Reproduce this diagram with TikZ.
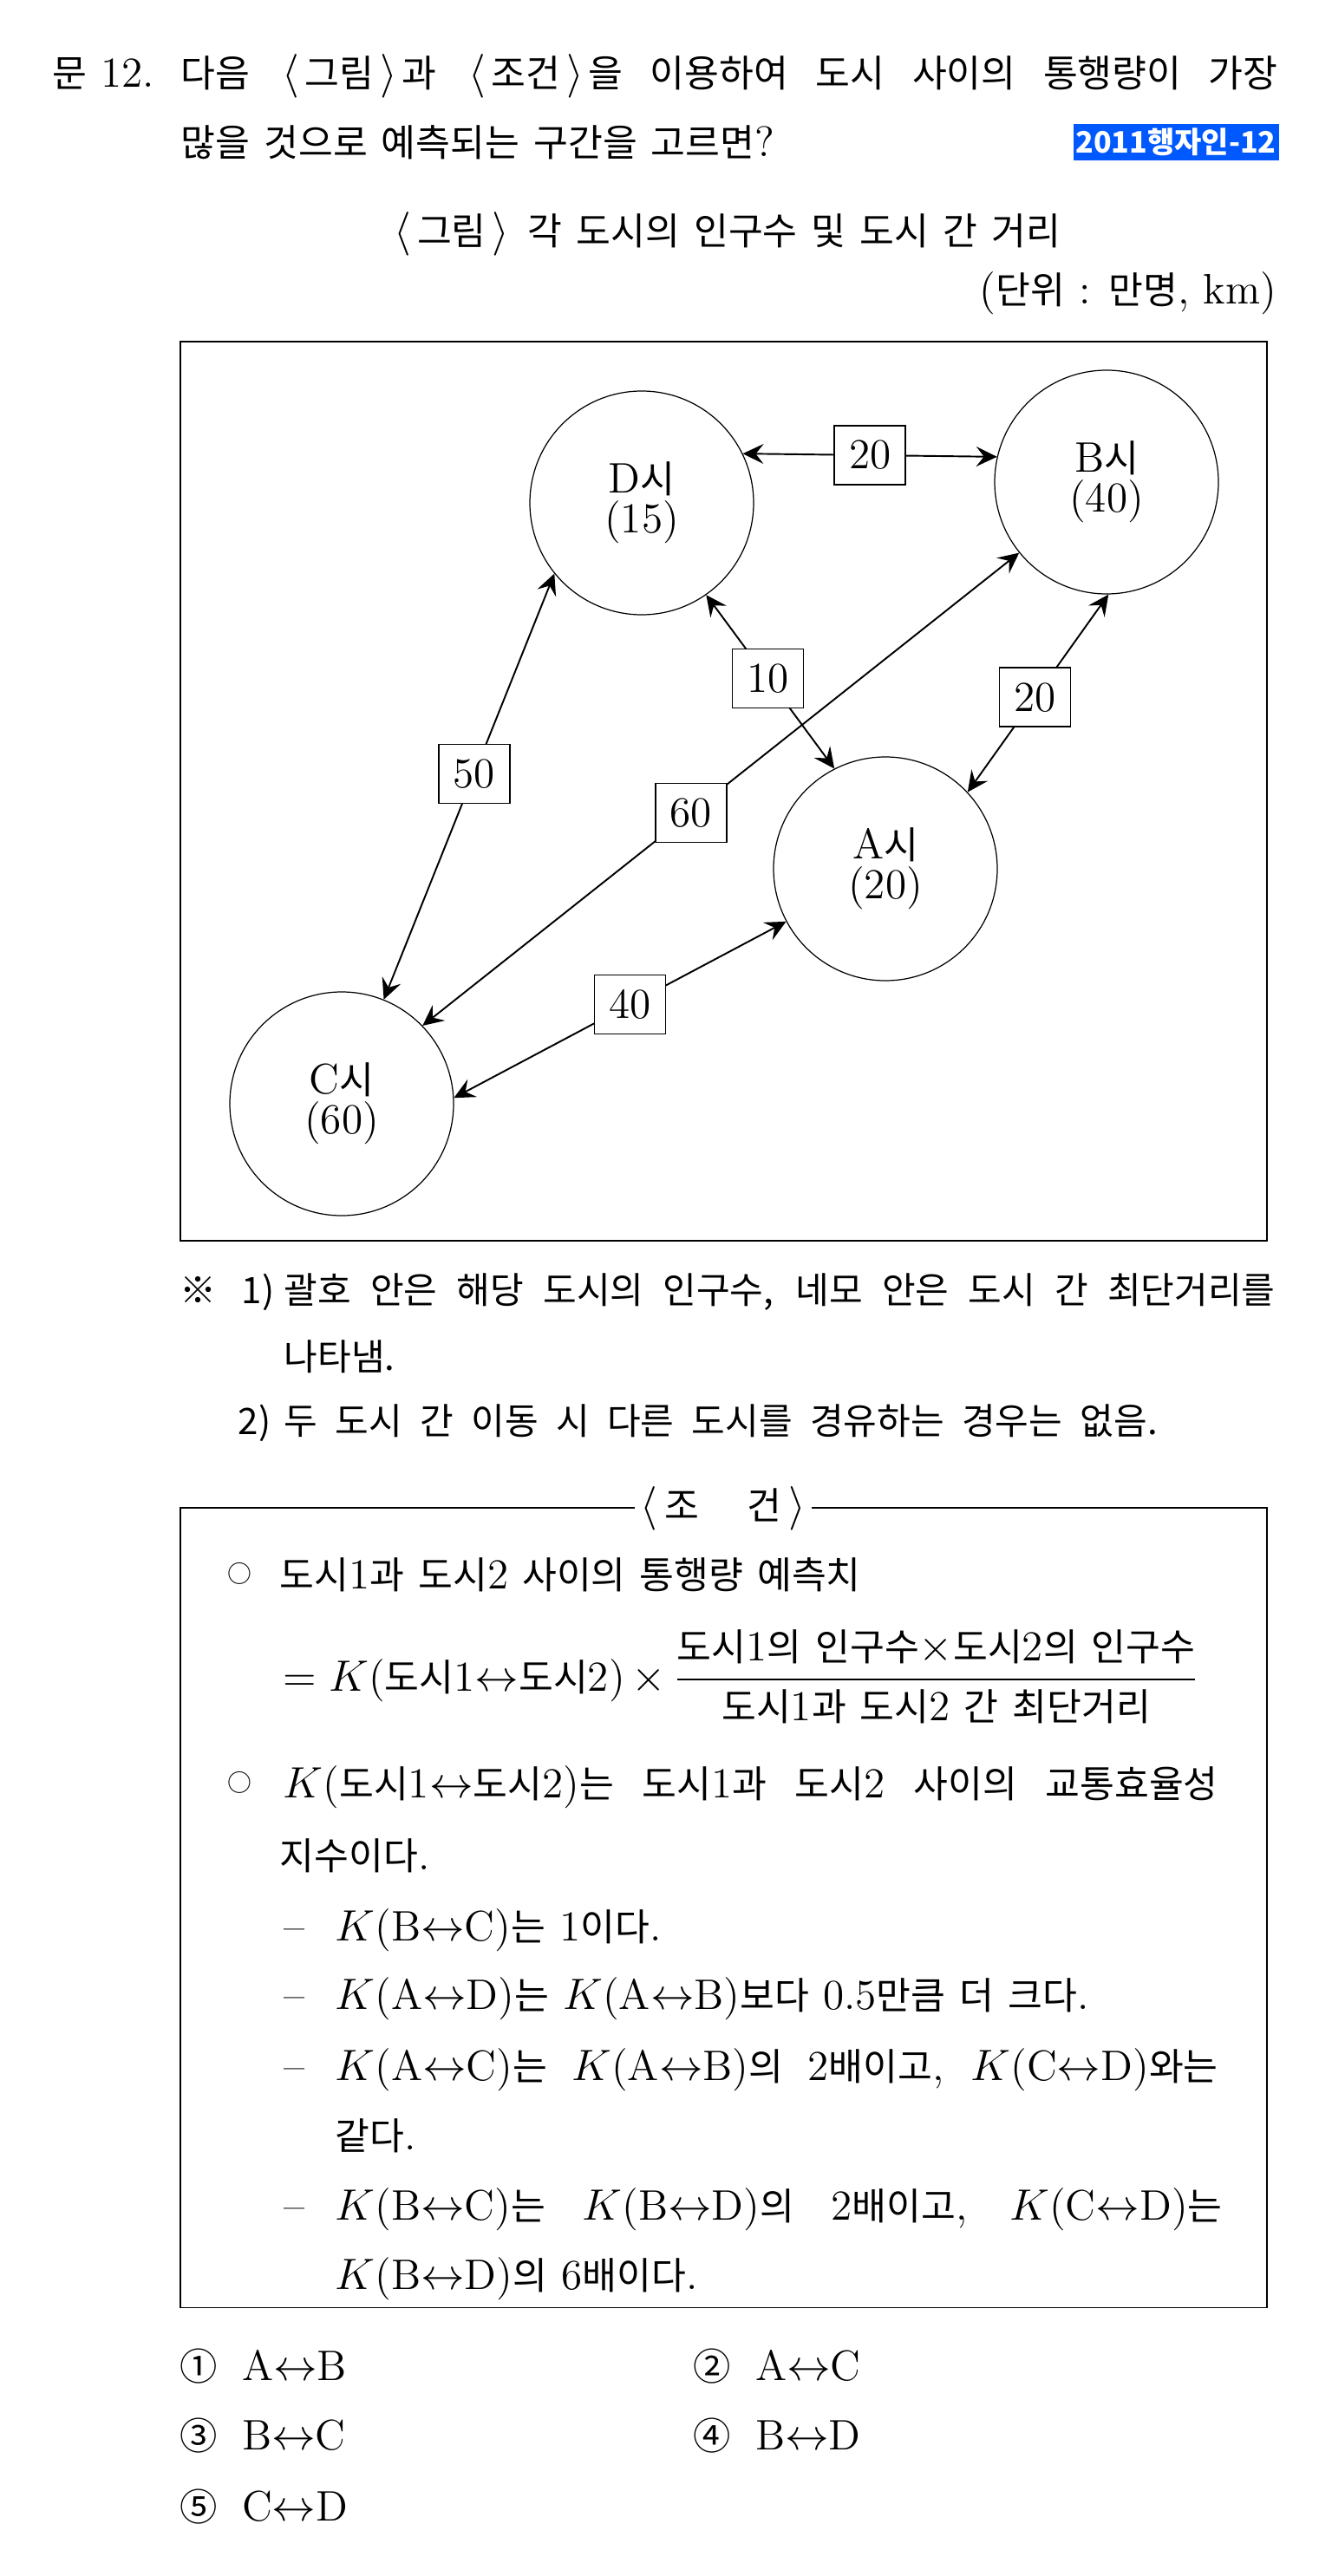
\documentclass[tikz,border=0pt]{standalone}
\usepackage{amsmath}
\usepackage{fontspec}
\usetikzlibrary{arrows.meta, positioning}

\newfontfamily\kr{Noto Sans CJK KR}[Scale=0.88]
\definecolor{tagblue}{RGB}{0,88,255}

% Hangul in the Korean face, Latin and digits stay in Latin Modern
\XeTeXinterchartokenstate=1
\newXeTeXintercharclass\krclass
\newcount\krcode
\krcode="AC00
\loop
  \XeTeXcharclass\krcode=\krclass
  \advance\krcode by 1
\ifnum\krcode<"D7A4 \repeat
\XeTeXcharclass"203B=\krclass \XeTeXcharclass"25CB=\krclass
\XeTeXcharclass"2460=\krclass \XeTeXcharclass"2461=\krclass
\XeTeXcharclass"2462=\krclass \XeTeXcharclass"2463=\krclass
\XeTeXcharclass"2464=\krclass
\def\latinfam{\rmfamily}
\XeTeXinterchartoks 0 \krclass = {\kr}
\XeTeXinterchartoks 4095 \krclass = {\kr}
\XeTeXinterchartoks \krclass 0 = {\latinfam}
\XeTeXinterchartoks \krclass 4095 = {\latinfam}

\newcommand\mainsize{\fontsize{14pt}{17pt}\selectfont}
\newcommand\notefont{\fontsize{13.6pt}{16pt}\selectfont\XeTeXinterchartokenstate=0 \kr}
\newcommand\tagfont{\fontsize{11pt}{11pt}\selectfont\XeTeXinterchartokenstate=0 \kr\bfseries}
\newcommand\la{\kern1.5pt$\langle$\kern2pt}
\newcommand\ra{\kern2pt$\rangle$\kern1.5pt}

\begin{document}
\begin{tikzpicture}[
    txt/.style={anchor=base west, inner sep=0pt, font=\mainsize},
    note/.style={txt, font=\notefont},
    bullet/.style={inner sep=0pt, font=\fontsize{9pt}{9pt}\selectfont},
    tag/.style={fill=tagblue, text=white, minimum width=2.37cm, minimum height=0.42cm, inner sep=0pt, font=\tagfont},
    city/.style={circle, draw, line width=0.35pt, minimum size=2.58cm, inner sep=0pt, align=center, font=\fontsize{14pt}{13pt}\selectfont},
    dist/.style={draw, fill=white, line width=0.4pt, minimum width=0.82cm, minimum height=0.68cm, inner sep=0pt, font=\mainsize},
    link/.style={{Stealth[length=2.4mm, width=2.3mm, inset=0.9mm]}-{Stealth[length=2.4mm, width=2.3mm, inset=0.9mm]}, line width=0.55pt},
    thinrule/.style={line width=0.3pt},
    thickrule/.style={line width=0.6pt},
]
\useasboundingbox (0,0) rectangle (15.35,-29.71);

% ── Question ──
\node[txt] (qno) at (0.60,-1.01) {문 12.};
\node[txt] (q1) at (2.08,-1.01) {\makebox[12.65cm][s]{다음 \la 그림\ra 과 \la 조건\ra 을 이용하여 도시 사이의 통행량이 가장}};
\node[txt] (q2) at (2.08,-1.81) {많을 것으로 예측되는 구간을 고르면?};
\node[tag] (src) at (13.56,-1.64) {2011행자인-12};

\node[txt, anchor=base] (figtitle) at (8.36,-2.83) {\la 그림\ra\ 각 도시의 인구수 및 도시 간 거리};
\node[txt, anchor=base east] (unit) at (14.73,-3.51) {(단위 : 만명, km)};

% ── Figure frame ──
\draw[thinrule] (2.08,-3.94) rectangle (14.61,-14.31);
\draw[thickrule] (2.08,-3.94) -- (14.61,-3.94) (2.08,-14.31) -- (14.61,-14.31);

% ── Cities ──
\node[city] (D) at (7.40,-5.80) {D시\\(15)};
\node[city] (B) at (12.76,-5.56) {B시\\(40)};
\node[city] (A) at (10.21,-10.02) {A시\\(20)};
\node[city] (C) at (3.94,-12.73) {C시\\(60)};

% ── Distances ──
\draw[link] (D.26) -- node[dist] (dDB) {20} (B.167);
\draw[link] (D.-55) -- node[dist, pos=0.48] (dDA) {10} (A.117);
\draw[link] (B.-89) -- node[dist, pos=0.52] (dBA) {20} (A.43);
\draw[link] (C.44) -- node[dist, pos=0.45] (dCB) {60} (B.-141);
\draw[link] (C.68) -- node[dist, pos=0.53] (dCD) {50} (D.-141);
\draw[link] (C.3) -- node[dist, pos=0.53] (dCA) {40} (A.-152);

% ── Notes ──
\node[note] (n1mark) at (2.07,-15.03) {※};
\node[note] (n1no) at (2.78,-15.03) {1)};
\node[note] (n1) at (3.27,-15.03) {\makebox[11.43cm][s]{괄호 안은 해당 도시의 인구수, 네모 안은 도시 간 최단거리를}};
\node[note] (n1b) at (3.27,-15.80) {나타냄.};
\node[note] (n2no) at (2.74,-16.54) {2)};
\node[note] (n2) at (3.27,-16.54) {\makebox[10.07cm][s]{두 도시 간 이동 시 다른 도시를 경유하는 경우는 없음.}};

% ── Conditions box ──
\draw[thinrule] (2.08,-17.39) rectangle (14.61,-26.61);
\draw[thickrule] (2.08,-17.39) -- (14.61,-17.39);
\node[txt, anchor=center, fill=white, inner xsep=2pt] (ctitle) at (8.34,-17.40) {$\langle$\,조\hspace{0.55cm}건\,$\rangle$};

\node[bullet] (b1) at (2.76,-18.15) {○};
\node[txt] (c1) at (3.22,-18.32) {도시1과 도시2 사이의 통행량 예측치};
\node[txt] (c2) at (3.26,-19.50) {$=K$(도시1$\leftrightarrow$도시2)\,$\times$\,$\displaystyle\frac{\mbox{도시1의 인구수$\times$도시2의 인구수}}{\mbox{도시1과 도시2 간 최단거리}}$};

\node[bullet] (b2) at (2.76,-20.56) {○};
\node[txt] (c3) at (3.26,-20.73) {\makebox[10.78cm][s]{$K$(도시1$\leftrightarrow$도시2)는 도시1과 도시2 사이의 교통효율성}};
\node[txt] (c4) at (3.22,-21.56) {지수이다.};

\node[txt] (d1) at (3.27,-22.38) {--};
\node[txt] (c5) at (3.86,-22.38) {$K$(B$\leftrightarrow$C)는 1이다.};
\node[txt] (d2) at (3.27,-23.17) {--};
\node[txt] (c6) at (3.86,-23.17) {$K$(A$\leftrightarrow$D)는 $K$(A$\leftrightarrow$B)보다 0.5만큼 더 크다.};
\node[txt] (d3) at (3.27,-23.99) {--};
\node[txt] (c7) at (3.86,-23.99) {\makebox[10.18cm][s]{$K$(A$\leftrightarrow$C)는 $K$(A$\leftrightarrow$B)의 2배이고, $K$(C$\leftrightarrow$D)와는}};
\node[txt] (c8) at (3.86,-24.79) {같다.};
\node[txt] (d4) at (3.27,-25.60) {--};
\node[txt] (c9) at (3.86,-25.60) {\makebox[10.23cm][s]{$K$(B$\leftrightarrow$C)는 $K$(B$\leftrightarrow$D)의 2배이고, $K$(C$\leftrightarrow$D)는}};
\node[txt] (c10) at (3.86,-26.40) {$K$(B$\leftrightarrow$D)의 6배이다.};

% ── Choices ──
\node[txt] (o1) at (2.07,-27.45) {①\hspace{0.28cm}A$\leftrightarrow$B};
\node[txt] (o2) at (7.99,-27.45) {②\hspace{0.28cm}A$\leftrightarrow$C};
\node[txt] (o3) at (2.07,-28.25) {③\hspace{0.28cm}B$\leftrightarrow$C};
\node[txt] (o4) at (7.99,-28.25) {④\hspace{0.28cm}B$\leftrightarrow$D};
\node[txt] (o5) at (2.07,-29.07) {⑤\hspace{0.28cm}C$\leftrightarrow$D};

\end{tikzpicture}
\end{document}
